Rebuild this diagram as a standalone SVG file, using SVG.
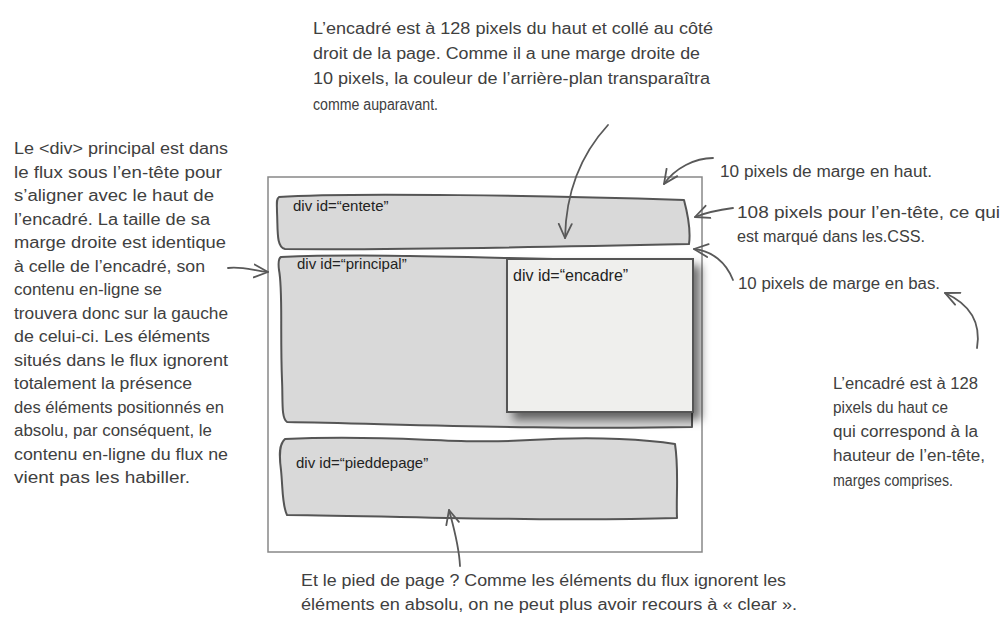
<svg xmlns="http://www.w3.org/2000/svg" width="1007" height="621" viewBox="0 0 1007 621">
<defs>
<style>
.note{font-family:"Liberation Sans",Arial,sans-serif;font-size:16px;fill:#404040}
.lbl{font-family:"Liberation Sans",Arial,sans-serif;font-size:15px;fill:#222}
.box{fill:#d9d9d9;stroke:#555;stroke-width:2;stroke-linejoin:round}
.conn{fill:none;stroke:#595959;stroke-width:1.8;stroke-linecap:round;marker-end:url(#ah)}
</style>
<marker id="ah" viewBox="0 0 16 16" refX="15" refY="8" markerWidth="16" markerHeight="16" markerUnits="userSpaceOnUse" orient="auto">
<path d="M1,1.5 L15,8 L1,14.5" fill="none" stroke="#595959" stroke-width="1.8" stroke-linecap="round" stroke-linejoin="round"/>
</marker>
<filter id="sh" x="-20%" y="-20%" width="150%" height="150%">
<feDropShadow dx="7" dy="7" stdDeviation="5" flood-color="#000" flood-opacity="0.55"/>
</filter>
</defs>
<rect width="1007" height="621" fill="#fff"/>

<g id="page">
<rect x="268" y="177" width="434" height="375" fill="#fff" stroke="#888" stroke-width="1.5"/>
</g>

<g id="entete">
<path class="box" d="M279,197 C350,192 550,196 684,200 C688,215 691,230 689,244 C550,247 400,250 285,249 C276,247 278,230 277,212 C277,204 276,199 279,197 Z"/>
<text class="lbl" x="293" y="211">div id=“entete”</text>
</g>

<g id="principal">
<path class="box" d="M281,257 C400,252 560,262 690,260 L692,300 C694,350 692,390 692,427 C550,430 400,424 287,422 C281,418 283,400 282,380 C280,330 283,290 279,270 C278,262 279,258 281,257 Z"/>
<text class="lbl" x="297" y="269">div id=“principal”</text>
</g>

<g id="encadre">
<rect x="507" y="259" width="186" height="153" fill="#efefed" stroke="#555" stroke-width="2" filter="url(#sh)"/>
<text class="lbl" x="513" y="281" style="font-size:16px">div id=“encadre”</text>
</g>

<g id="pieddepage">
<path class="box" d="M285,439 C400,434 450,445 530,440 C600,436 650,440 675,444 C679,470 676,495 677,518 C550,522 400,516 287,515 C282,505 283,490 281,470 C279,455 279,444 285,439 Z"/>
<text class="lbl" x="296" y="468">div id=“pieddepage”</text>
</g>

<g id="connectors">
<path class="conn" d="M608,125 C585,150 566,185 565,238"/>
<path class="conn" d="M713,158 C695,158 675,168 664,184"/>
<path class="conn" d="M733,208 C718,210 705,213 695,217"/>
<path class="conn" d="M733,280 C726,262 712,251 694,249"/>
<path class="conn" d="M977,348 C982,318 965,302 945,293"/>
<path class="conn" d="M228,268 C242,266 255,271 268,272"/>
<path class="conn" d="M460,566 C459,545 453,525 449,510"/>
</g>

<g id="note-top" class="note">
<text x="313" y="34" textLength="400" lengthAdjust="spacingAndGlyphs">L’encadré est à 128 pixels du haut et collé au côté</text>
<text x="313" y="59" textLength="387" lengthAdjust="spacingAndGlyphs">droit de la page. Comme il a une marge droite de</text>
<text x="313" y="84" textLength="397" lengthAdjust="spacingAndGlyphs">10 pixels, la couleur de l’arrière-plan transparaîtra</text>
<text x="313" y="110" textLength="125" lengthAdjust="spacingAndGlyphs">comme auparavant.</text>
</g>

<g id="note-left" class="note">
<text x="14" y="154" textLength="214" lengthAdjust="spacingAndGlyphs">Le &lt;div&gt; principal est dans</text>
<text x="14" y="177.5" textLength="208" lengthAdjust="spacingAndGlyphs">le flux sous l’en-tête pour</text>
<text x="14" y="201" textLength="200" lengthAdjust="spacingAndGlyphs">s’aligner avec le haut de</text>
<text x="14" y="224.5" textLength="196" lengthAdjust="spacingAndGlyphs">l’encadré. La taille de sa</text>
<text x="14" y="248" textLength="212" lengthAdjust="spacingAndGlyphs">marge droite est identique</text>
<text x="14" y="271.5" textLength="191" lengthAdjust="spacingAndGlyphs">à celle de l’encadré, son</text>
<text x="14" y="295" textLength="148" lengthAdjust="spacingAndGlyphs">contenu en-ligne se</text>
<text x="14" y="318.5" textLength="214" lengthAdjust="spacingAndGlyphs">trouvera donc sur la gauche</text>
<text x="14" y="342" textLength="196" lengthAdjust="spacingAndGlyphs">de celui-ci. Les éléments</text>
<text x="14" y="365.5" textLength="214" lengthAdjust="spacingAndGlyphs">situés dans le flux ignorent</text>
<text x="14" y="389" textLength="178" lengthAdjust="spacingAndGlyphs">totalement la présence</text>
<text x="14" y="412.5" textLength="210" lengthAdjust="spacingAndGlyphs">des éléments positionnés en</text>
<text x="14" y="436" textLength="198" lengthAdjust="spacingAndGlyphs">absolu, par conséquent, le</text>
<text x="14" y="459.5" textLength="214" lengthAdjust="spacingAndGlyphs">contenu en-ligne du flux ne</text>
<text x="14" y="483" textLength="176" lengthAdjust="spacingAndGlyphs">vient pas les habiller.</text>
</g>

<g id="note-right" class="note">
<text x="720" y="177" textLength="212" lengthAdjust="spacingAndGlyphs">10 pixels de marge en haut.</text>
<text x="737" y="218" textLength="263" lengthAdjust="spacingAndGlyphs">108 pixels pour l’en-tête, ce qui</text>
<text x="737" y="242" textLength="188" lengthAdjust="spacingAndGlyphs">est marqué dans les.CSS.</text>
<text x="738" y="289" textLength="202" lengthAdjust="spacingAndGlyphs">10 pixels de marge en bas.</text>
</g>

<g id="note-right-bottom" class="note">
<text x="833" y="389" textLength="145" lengthAdjust="spacingAndGlyphs">L’encadré est à 128</text>
<text x="833" y="413" textLength="115" lengthAdjust="spacingAndGlyphs">pixels du haut ce</text>
<text x="833" y="437" textLength="145" lengthAdjust="spacingAndGlyphs">qui correspond à la</text>
<text x="833" y="461" textLength="152" lengthAdjust="spacingAndGlyphs">hauteur de l’en-tête,</text>
<text x="833" y="486" textLength="120" lengthAdjust="spacingAndGlyphs">marges comprises.</text>
</g>

<g id="note-bottom" class="note">
<text x="301" y="586" textLength="485" lengthAdjust="spacingAndGlyphs">Et le pied de page ? Comme les éléments du flux ignorent les</text>
<text x="301" y="610" textLength="496" lengthAdjust="spacingAndGlyphs">éléments en absolu, on ne peut plus avoir recours à « clear ».</text>
</g>
</svg>
